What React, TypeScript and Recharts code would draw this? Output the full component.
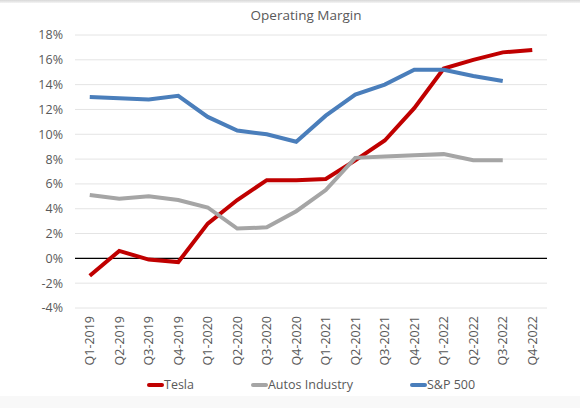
import { LineChart, Line, XAxis, YAxis, CartesianGrid, ReferenceLine } from "recharts";

const quarters = [
  "Q1-2019", "Q2-2019", "Q3-2019", "Q4-2019",
  "Q1-2020", "Q2-2020", "Q3-2020", "Q4-2020",
  "Q1-2021", "Q2-2021", "Q3-2021", "Q4-2021",
  "Q1-2022", "Q2-2022", "Q3-2022", "Q4-2022",
];
const tesla = [-1.4, 0.6, -0.1, -0.3, 2.8, 4.7, 6.3, 6.3, 6.4, 7.9, 9.5, 12.1, 15.3, 16.0, 16.6, 16.8];
const autos = [5.1, 4.8, 5.0, 4.7, 4.1, 2.4, 2.5, 3.8, 5.5, 8.1, 8.2, 8.3, 8.4, 7.9, 7.9, null];
const sp500 = [13.0, 12.9, 12.8, 13.1, 11.4, 10.3, 10.0, 9.4, 11.5, 13.2, 14.0, 15.2, 15.2, 14.7, 14.3, null];
const yTicks = [-4, -2, 0, 2, 4, 6, 8, 10, 12, 14, 16, 18];

const SERIES = [
  { key: "Tesla", color: "#c00000" },
  { key: "Autos Industry", color: "#a5a5a5" },
  { key: "S&P 500", color: "#4a7ebb" },
];

const data = quarters.map((q, i) => ({
  name: q,
  Tesla: tesla[i],
  "Autos Industry": autos[i],
  "S&P 500": sp500[i],
}));

const FONT = "'Open Sans', sans-serif";
const TEXT = "#595959";

function QuarterTick({ x, y, payload }: any) {
  return (
    <g transform={`translate(${x},${y})`}>
      <text x={0} y={0} dy={4.5} textAnchor="end" transform="rotate(-90)" fill={TEXT} fontSize={12.5} fontFamily={FONT}>
        {payload.value}
      </text>
    </g>
  );
}

function LegendRow() {
  return (
    <div style={{ display: "flex", paddingLeft: 147, gap: 57, fontFamily: FONT, fontSize: 12.5, color: TEXT }}>
      {SERIES.map((s) => (
        <div key={s.key} style={{ display: "flex", alignItems: "center" }}>
          <span style={{ display: "inline-block", width: 17, height: 4, borderRadius: 2, background: s.color }} />
          <span>{s.key}</span>
        </div>
      ))}
    </div>
  );
}

export default function App() {
  return (
    <div style={{ position: "absolute", left: 0, top: 0, width: 580, height: 408, background: "#fff", overflow: "hidden" }}>
      <div style={{ position: "absolute", left: 0, top: 0, width: 580, height: 3, background: "linear-gradient(#d8d8d8, #f4f4f4)" }} />
      <div style={{ position: "absolute", left: 0, top: 396, width: 580, height: 12, background: "#f8f8f8" }} />
      <div style={{ position: "absolute", left: 0, top: 6, width: 612, textAlign: "center", fontFamily: FONT, fontSize: 13.5, color: TEXT }}>
        Operating Margin
      </div>
      <div style={{ position: "absolute", left: 0, top: 0 }}>
        <LineChart width={580} height={408} data={data} margin={{ top: 35, right: 33, bottom: 0, left: 0 }}>
          <CartesianGrid vertical={false} stroke="#e4e4e4" strokeWidth={1} />
          <XAxis
            dataKey="name"
            scale="band"
            interval={0}
            axisLine={false}
            tickLine={false}
            tick={<QuarterTick />}
            height={100}
          />
          <YAxis
            width={75}
            domain={[-4, 18]}
            ticks={yTicks}
            interval={0}
            axisLine={false}
            tickLine={false}
            tickMargin={6}
            tickFormatter={(v: number) => `${v}%`}
            tick={{ fill: TEXT, fontSize: 12.5, fontFamily: FONT }}
          />
          <ReferenceLine y={0} stroke="#000" strokeWidth={1.2} />
          {SERIES.map((s) => (
            <Line
              key={s.key}
              dataKey={s.key}
              stroke={s.color}
              strokeWidth={4}
              dot={false}
              type="linear"
              isAnimationActive={false}
            />
          ))}
        </LineChart>
      </div>
      <div style={{ position: "absolute", left: 0, top: 376, width: 580 }}>
        <LegendRow />
      </div>
    </div>
  );
}
